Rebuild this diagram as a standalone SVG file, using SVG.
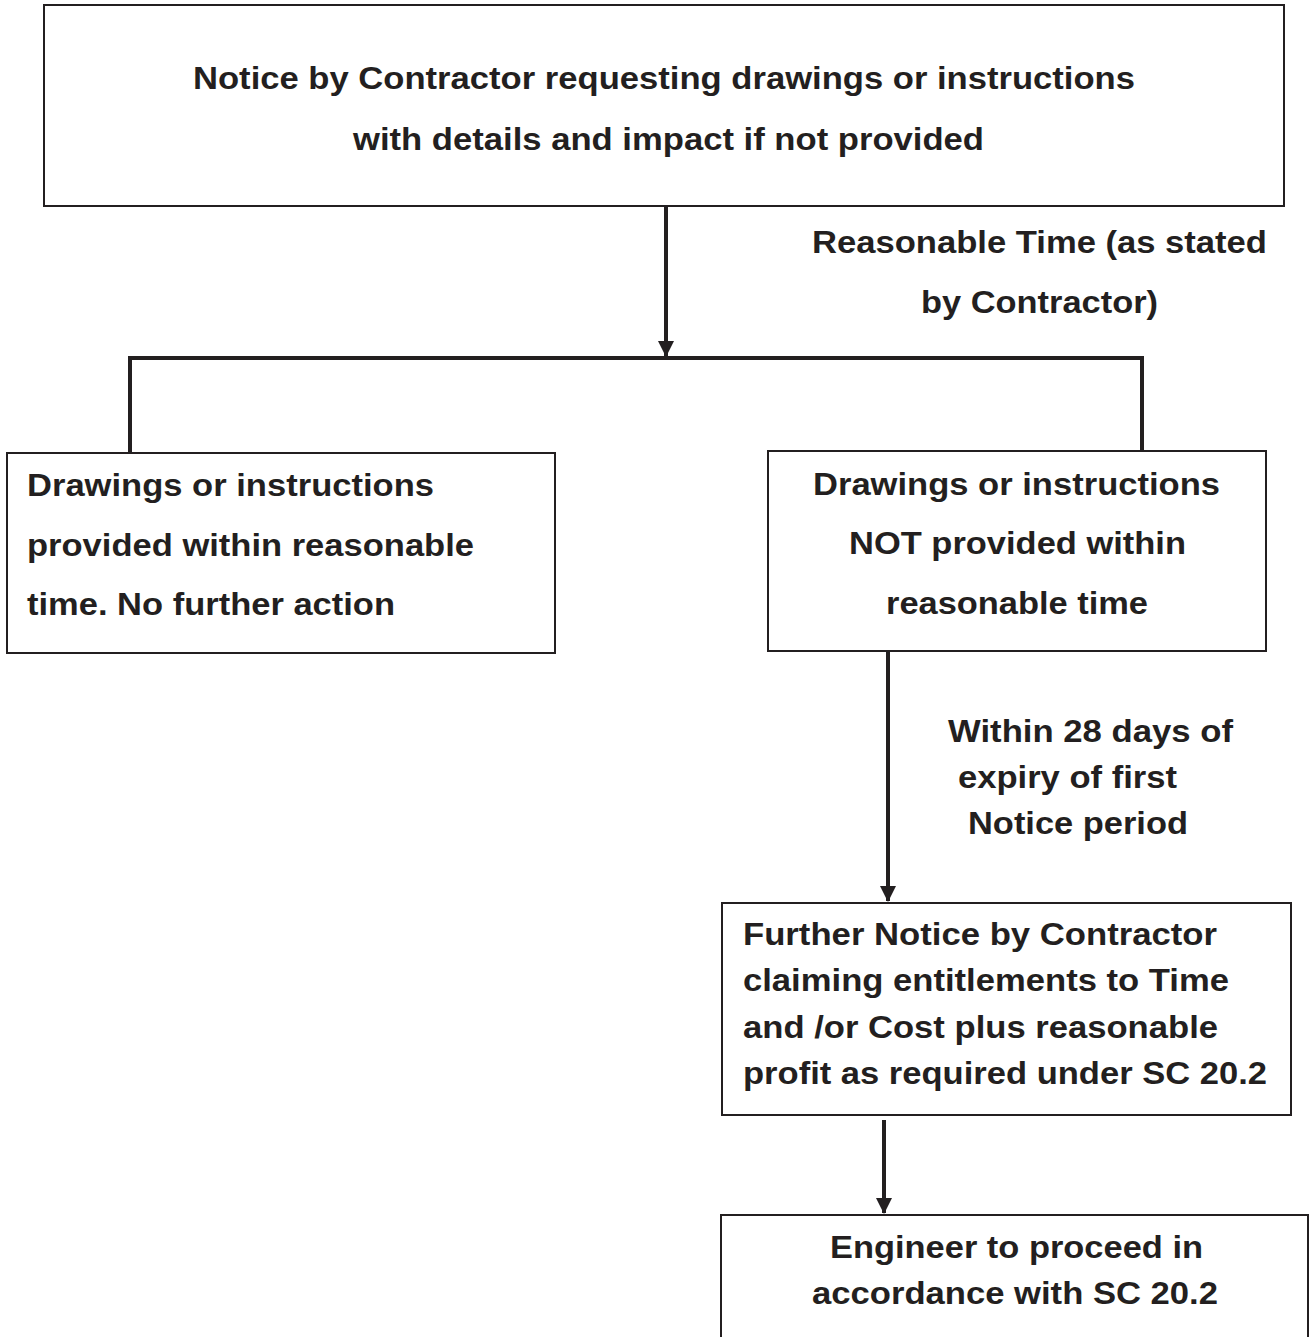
<svg xmlns="http://www.w3.org/2000/svg" width="1310" height="1337" viewBox="0 0 1310 1337">
<style>
.box{fill:#fff;stroke:#231f20;stroke-width:2}
.t{font-family:"Liberation Sans",Arial,sans-serif;font-weight:bold;font-size:31px;fill:#231f20}
.ln{stroke:#231f20;stroke-width:4;fill:none}
</style>
<defs>
<marker id="ah" viewBox="0 0 16 16" refX="15" refY="8" markerWidth="16" markerHeight="16" markerUnits="userSpaceOnUse" orient="auto">
<path d="M0,0 L16,8 L0,16 Z" fill="#231f20"/>
</marker>
</defs>
<rect width="1310" height="1337" fill="#fff"/>
<g id="connectors">
<line class="ln" x1="666" y1="206" x2="666" y2="356" marker-end="url(#ah)"/>
<polyline class="ln" points="130,453 130,358 1142,358 1142,451"/>
<line class="ln" x1="888" y1="651" x2="888" y2="901" marker-end="url(#ah)"/>
<line class="ln" x1="884" y1="1120" x2="884" y2="1213" marker-end="url(#ah)"/>
</g>
<g id="label-reasonable">
<text class="t" x="812" y="253" textLength="455" lengthAdjust="spacingAndGlyphs">Reasonable Time (as stated</text>
<text class="t" x="921" y="313" textLength="237" lengthAdjust="spacingAndGlyphs">by Contractor)</text>
</g>
<g id="label-28days">
<text class="t" x="948" y="742" textLength="285" lengthAdjust="spacingAndGlyphs">Within 28 days of</text>
<text class="t" x="958" y="788" textLength="219" lengthAdjust="spacingAndGlyphs">expiry of first</text>
<text class="t" x="968" y="834" textLength="220" lengthAdjust="spacingAndGlyphs">Notice period</text>
</g>
<g id="node-notice">
<rect class="box" x="44" y="5" width="1240" height="201"/>
<text class="t" x="193" y="89" textLength="942" lengthAdjust="spacingAndGlyphs">Notice by Contractor requesting drawings or instructions</text>
<text class="t" x="353" y="150" textLength="631" lengthAdjust="spacingAndGlyphs">with details and impact if not provided</text>
</g>
<g id="node-provided">
<rect class="box" x="7" y="453" width="548" height="200"/>
<text class="t" x="27" y="496" textLength="407" lengthAdjust="spacingAndGlyphs">Drawings or instructions</text>
<text class="t" x="27" y="556" textLength="447" lengthAdjust="spacingAndGlyphs">provided within reasonable</text>
<text class="t" x="27" y="615" textLength="368" lengthAdjust="spacingAndGlyphs">time. No further action</text>
</g>
<g id="node-not-provided">
<rect class="box" x="768" y="451" width="498" height="200"/>
<text class="t" x="813" y="495" textLength="407" lengthAdjust="spacingAndGlyphs">Drawings or instructions</text>
<text class="t" x="849" y="554" textLength="337" lengthAdjust="spacingAndGlyphs">NOT provided within</text>
<text class="t" x="886" y="614" textLength="262" lengthAdjust="spacingAndGlyphs">reasonable time</text>
</g>
<g id="node-further">
<rect class="box" x="722" y="903" width="569" height="212"/>
<text class="t" x="743" y="945" textLength="474" lengthAdjust="spacingAndGlyphs">Further Notice by Contractor</text>
<text class="t" x="743" y="991" textLength="486" lengthAdjust="spacingAndGlyphs">claiming entitlements to Time</text>
<text class="t" x="743" y="1038" textLength="475" lengthAdjust="spacingAndGlyphs">and /or Cost plus reasonable</text>
<text class="t" x="743" y="1084" textLength="524" lengthAdjust="spacingAndGlyphs">profit as required under SC 20.2</text>
</g>
<g id="node-engineer">
<rect class="box" x="721" y="1215" width="587" height="140"/>
<text class="t" x="830" y="1258" textLength="373" lengthAdjust="spacingAndGlyphs">Engineer to proceed in</text>
<text class="t" x="812" y="1304" textLength="406" lengthAdjust="spacingAndGlyphs">accordance with SC 20.2</text>
</g>
</svg>
